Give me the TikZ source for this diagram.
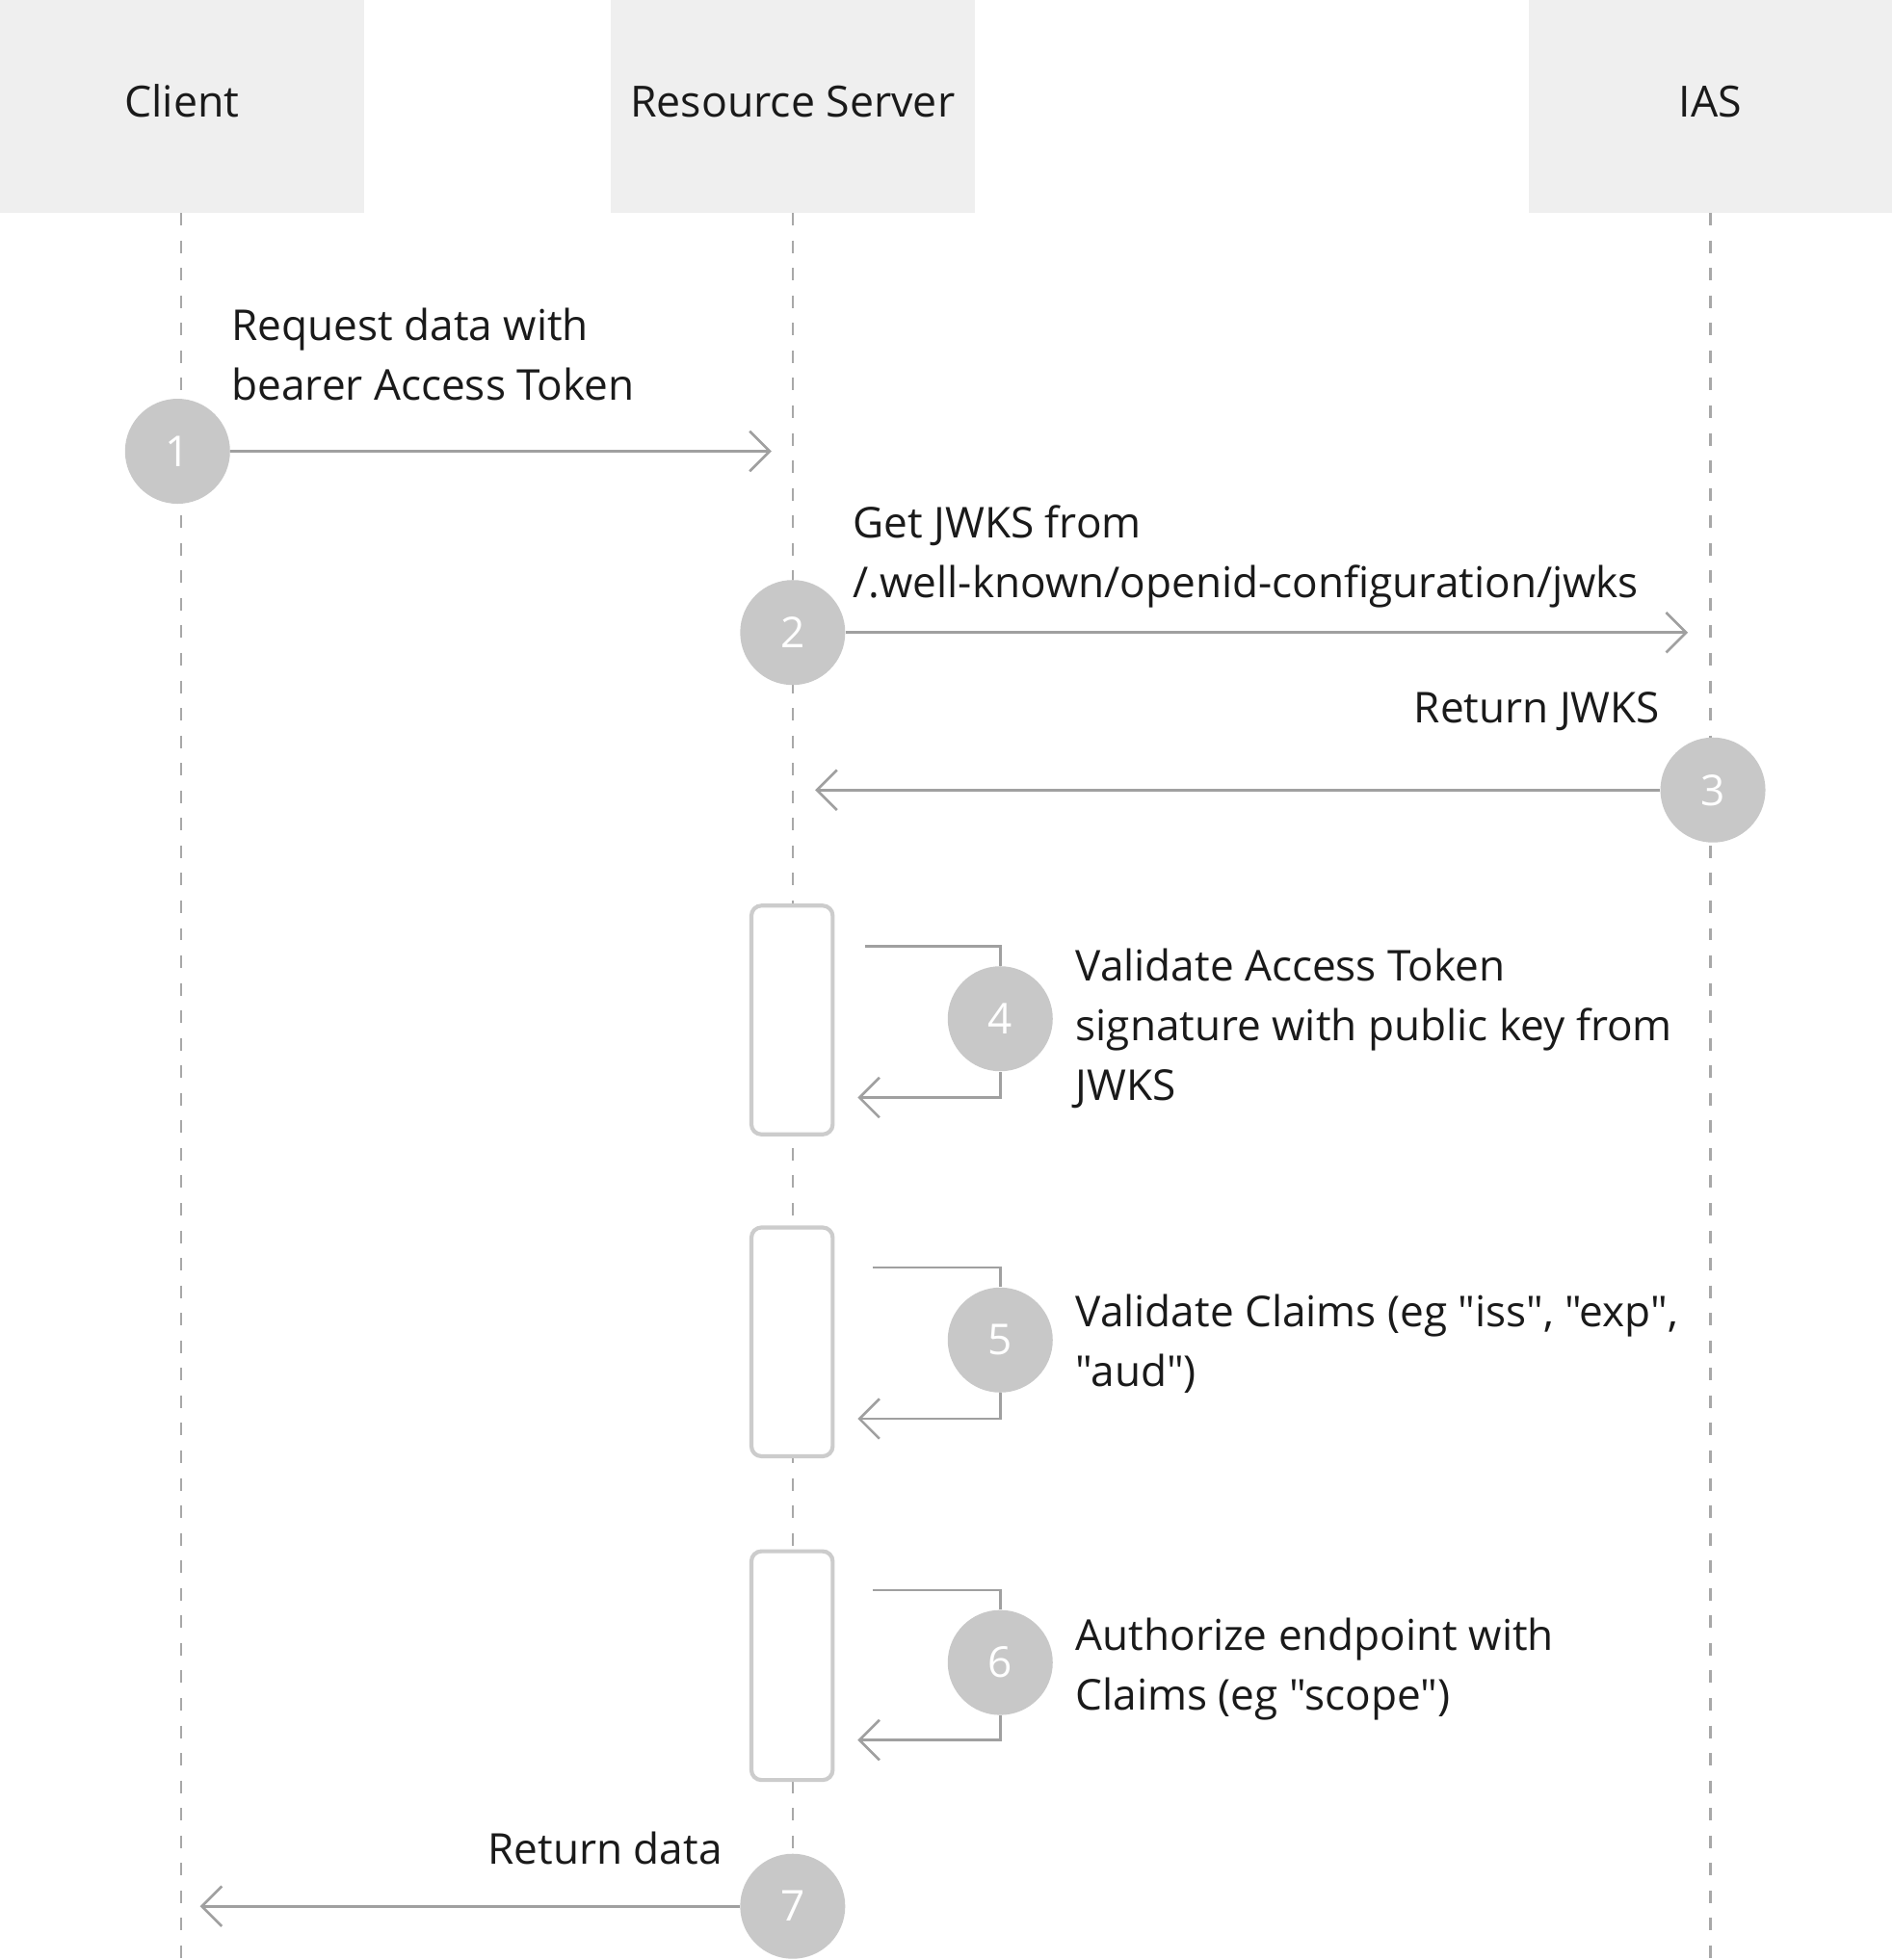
\documentclass[tikz,border=0pt]{standalone}
\usepackage{fontspec}
\setmainfont{Open Sans}[Ligatures=TeXOff]
\usetikzlibrary{arrows.meta}
\definecolor{hdr}{HTML}{EFEFEF}
\definecolor{circ}{HTML}{C8C8C8}
\definecolor{arr}{HTML}{A0A0A0}
\definecolor{life}{HTML}{A8A8A8}
\definecolor{actb}{HTML}{CCCCCC}
\definecolor{txt}{HTML}{1A1A1A}
\begin{document}
\begin{tikzpicture}[x=0.5pt,y=-0.5pt,
  lbl/.style={font=\fontsize{17}{24}\selectfont, text=txt, inner sep=0pt, align=left},
  hdrbox/.style={fill=hdr, draw=none, minimum width=145.5pt, minimum height=85pt, inner sep=0pt,
    font=\fontsize{17.2}{24}\selectfont, text=txt, text height=12pt, text depth=3pt},
  lifeline/.style={draw=life, line width=1pt, dash pattern=on 5pt off 6pt},
  stepnum/.style={circle, fill=circ, draw=none, minimum size=42pt, inner sep=0pt, text=white,
    font=\fontsize{17}{24}\selectfont},
  msg/.style={draw=arr, line width=1pt, -{Straight Barb[length=8pt,width=16pt,line width=1pt]}},
  selfl/.style={draw=arr, line width=1pt},
  actbox/.style={draw=actb, fill=white, line width=1.6pt, rounded corners=4pt,
    minimum width=32.5pt, minimum height=91.5pt, inner sep=0pt}
]
\useasboundingbox[fill=white] (0,0) rectangle (1514,1568);

% headers
\node[hdrbox] (hc) at (145.5,85) {Client};
\node[hdrbox] (hr) at (634,85) {Resource Server};
\node[hdrbox] (hi) at (1368,85) {IAS};

% lifeline ends
\coordinate (ec) at (145,1568);
\coordinate (er) at (634,1568);
\coordinate (ei) at (1368,1568);
\draw[lifeline] (hc.south -| ec) -- (ec);
\draw[lifeline] (hr.south -| er) -- (er);
\draw[lifeline] (hi.south -| ei) -- (ei);

% activation boxes
\node[actbox] (b4) at (633.5,816) {};
\node[actbox] (b5) at (633.5,1073.5) {};
\node[actbox] (b6) at (633.5,1332.5) {};

% step 1
\node[stepnum] (s1) at (142,361) {1};
\coordinate (t1) at (617,361);
\draw[msg] (s1) -- (t1);
\node[lbl, anchor=north west] (l1) at (185,238.4) {\strut Request data with\\bearer Access Token};

% step 2
\node[stepnum] (s2) at (634,506) {2};
\coordinate (t2) at (1350,506);
\draw[msg] (s2) -- (t2);
\node[lbl, anchor=north west] (l2) at (682,396.4) {\strut Get JWKS from\\/.well-known/openid-configuration/jwks};

% step 3
\node[stepnum] (s3) at (1370,632) {3};
\coordinate (t3) at (652,632);
\draw[msg] (s3) -- (t3);
\node[lbl, anchor=north east] (l3) at (1328,544.4) {\strut Return JWKS};

% step 4
\node[stepnum] (s4) at (800,815) {4};
\coordinate (a4) at (692,757);
\coordinate (r4) at (686,878);
\draw[selfl] (a4) -| (s4);
\draw[msg] (s4) |- (r4);
\node[lbl, anchor=north west] (l4) at (860,750.4) {\strut Validate Access Token\\signature with public key from\\JWKS};

% step 5
\node[stepnum] (s5) at (800,1072) {5};
\coordinate (a5) at (698,1014);
\coordinate (r5) at (686,1135);
\draw[selfl] (a5) -| (s5);
\draw[msg] (s5) |- (r5);
\node[lbl, anchor=north west] (l5) at (860,1027.4) {\strut Validate Claims (eg "iss", "exp",\\"aud")};

% step 6
\node[stepnum] (s6) at (800,1330) {6};
\coordinate (a6) at (698,1272);
\coordinate (r6) at (686,1392);
\draw[selfl] (a6) -| (s6);
\draw[msg] (s6) |- (r6);
\node[lbl, anchor=north west] (l6) at (860,1286.4) {\strut Authorize endpoint with\\Claims (eg "scope")};

% step 7
\node[stepnum] (s7) at (634,1525) {7};
\coordinate (t7) at (160,1525);
\draw[msg] (s7) -- (t7);
\node[lbl, anchor=north east] (l7) at (578,1457.4) {\strut Return data};
\end{tikzpicture}
\end{document}
